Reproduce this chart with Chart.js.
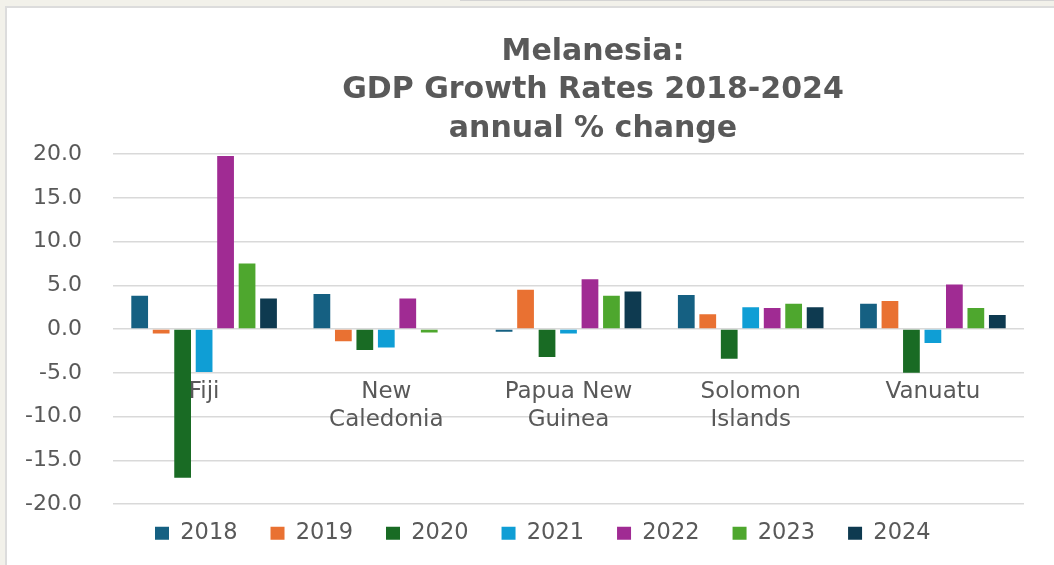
<!DOCTYPE html>
<html>
<head>
<meta charset="utf-8">
<script src="https://cdn.jsdelivr.net/npm/chart.js@4.4.1/dist/chart.umd.min.js"></script>
<style>
  html, body { margin: 0; padding: 0; width: 1054px; height: 565px; overflow: hidden; background: #f2f1ea; }
  #topline { position: absolute; left: 460px; top: 0; width: 594px; height: 1px; background: #d4d4d4; }
  #frame { position: absolute; left: 5px; top: 6px; width: 1049px; height: 559px; background: #ffffff;
           border-left: 2px solid #dcdcdc; border-top: 2px solid #dcdcdc; box-sizing: border-box; }
  #wrap { position: absolute; left: 0; top: 0; width: 1054px; height: 565px; }
</style>
</head>
<body>
<div id="topline"></div>
<div id="frame"></div>
<div id="wrap"><canvas id="c" width="1054" height="565"></canvas></div>
<script>
// ---- data ----
const categories = ['Fiji', ['New', 'Caledonia'], ['Papua New', 'Guinea'], ['Solomon', 'Islands'], 'Vanuatu'];
const years = ['2018', '2019', '2020', '2021', '2022', '2023', '2024'];
const v2018 = [3.8, 4.0, -0.3, 3.9, 2.9];
const v2019 = [-0.5, -1.4, 4.5, 1.7, 3.2];
const v2020 = [-17.0, -2.4, -3.2, -3.4, -5.0];
const v2021 = [-4.9, -2.1, -0.5, 2.5, -1.6];
const v2022 = [19.8, 3.5, 5.7, 2.4, 5.1];
const v2023 = [7.5, -0.4, 3.8, 2.9, 2.4];
const v2024 = [3.5, null, 4.3, 2.5, 1.6];
const titleLines = ['Melanesia:', 'GDP Growth Rates 2018-2024', 'annual % change'];

const colors = ['#156082', '#E97132', '#196B24', '#0F9ED5', '#A02B93', '#4EA72E', '#0E3A50'];
const seriesValues = [v2018, v2019, v2020, v2021, v2022, v2023, v2024];

Chart.defaults.font.family = "'DejaVu Sans', sans-serif";
Chart.defaults.color = '#595959';

const placePlugin = {
  id: 'placeBlocks',
  afterLayout(chart) {
    const t = chart.titleBlock;
    if (t) {
      const w = t.right - t.left;
      t.left = 593 - w / 2;
      t.right = 593 + w / 2;
    }
    const l = chart.legend;
    if (l) {
      const h = l.bottom - l.top;
      l.left = 155 - 33;
      l.right = 1054;
      l.width = l.right - l.left;
      l.top = 533 - 33 - 11;
      l.bottom = l.top + h;
    }
  }
};

new Chart(document.getElementById('c'), {
  type: 'bar',
  data: {
    labels: categories,
    datasets: years.map((y, i) => ({
      label: y,
      data: seriesValues[i],
      backgroundColor: colors[i],
      borderWidth: 0,
      categoryPercentage: 0.825,
      barPercentage: 0.78
    }))
  },
  options: {
    responsive: false,
    animation: false,
    layout: { padding: { left: 0, right: 30, top: 0, bottom: 5 } },
    plugins: {
      title: {
        display: true,
        text: titleLines,
        color: '#595959',
        font: { size: 30, weight: 'bold', lineHeight: 1.28 },
        padding: { top: 33, bottom: 6 }
      },
      legend: {
        position: 'bottom',
        align: 'start',
        maxHeight: 56,
        labels: {
          font: { size: 22.5 },
          color: '#595959',
          boxWidth: 14,
          boxHeight: 13,
          padding: 33
        }
      },
      tooltip: { enabled: false }
    },
    scales: {
      x: {
        position: { y: 0 },
        grid: { display: false },
        border: { display: false },
        ticks: {
          padding: 41,
          font: { size: 23, lineHeight: 1.22 },
          color: '#595959',
          maxRotation: 0,
          autoSkip: false
        }
      },
      y: {
        min: -20,
        max: 20,
        afterFit: (s) => { s.width = 113; },
        grid: { color: '#d9d9d9', lineWidth: 1.5, drawTicks: false },
        border: { display: false },
        ticks: {
          stepSize: 5,
          padding: 31,
          font: { size: 22 },
          color: '#595959',
          callback: (v) => Number(v).toFixed(1)
        }
      }
    }
  },
  plugins: [placePlugin]
});
</script>
</body>
</html>
